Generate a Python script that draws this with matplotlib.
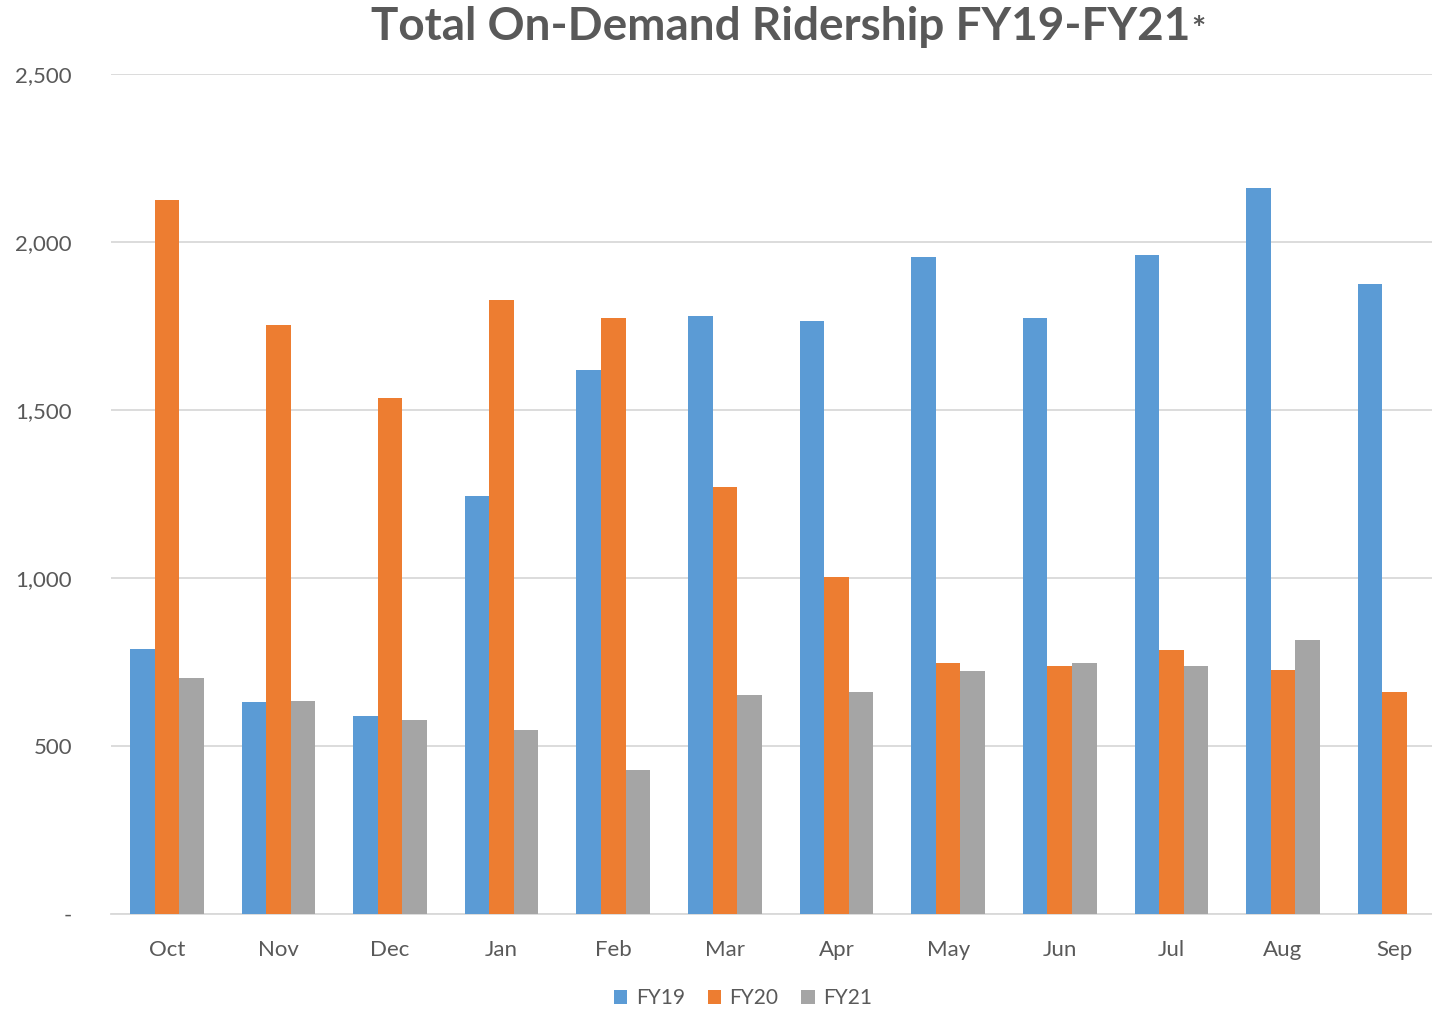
import matplotlib
matplotlib.use("Agg")
import matplotlib.pyplot as plt
import numpy as np
from matplotlib.ticker import FuncFormatter

months = ["Oct", "Nov", "Dec", "Jan", "Feb", "Mar", "Apr", "May", "Jun", "Jul", "Aug", "Sep"]
fy19 = [790, 631, 589, 1244, 1619, 1780, 1765, 1955, 1774, 1961, 2161, 1875]
fy20 = [2125, 1753, 1536, 1827, 1774, 1271, 1003, 747, 738, 786, 726, 661]
fy21 = [702, 634, 577, 548, 429, 652, 661, 723, 747, 738, 815, 0]
series_names = ["FY19", "FY20", "FY21"]
colors = ["#5B9BD5", "#ED7D31", "#A5A5A5"]
yticks = [0, 500, 1000, 1500, 2000, 2500]

plt.rcParams['font.family'] = ['Lato', 'DejaVu Sans']

fig = plt.figure(figsize=(14.32, 10.10), dpi=100)
W, H = 1432, 1010
ax = fig.add_axes([111 / W, 1 - 914 / H, (1432 - 111) / W, (914 - 74) / H])

x = np.arange(len(months))
bw = 0.22
for i, (vals, name, c) in enumerate(zip([fy19, fy20, fy21], series_names, colors)):
    ax.bar(x + (i - 1) * bw, vals, width=bw, color=c, label=name, zorder=3)

ax.set_xlim(-0.5, (1432 - 167) / 111.6)
ax.set_ylim(0, 2500)
ax.set_yticks(yticks)
ax.yaxis.set_major_formatter(FuncFormatter(lambda v, p: "-" if v == 0 else f"{int(v):,}"))
ax.set_xticks(x)
ax.set_xticklabels(months)
ax.grid(axis='y', color='#D9D9D9', linewidth=1.3, zorder=0)
for s in ['top', 'right', 'left']:
    ax.spines[s].set_visible(False)
ax.spines['bottom'].set_color('#D9D9D9')
ax.spines['bottom'].set_linewidth(1.3)
ax.tick_params(axis='both', length=0, labelsize=16, colors='#595959')
ax.tick_params(axis='x', pad=19)
ax.tick_params(axis='y', pad=28)

fig.text(781 / W, 1 - 27 / H, "Total On-Demand Ridership FY19-FY21", ha='center', va='center',
         fontsize=33, fontweight='bold', color='#595959')
fig.text(1191 / W, 1 - 30 / H, "*", ha='left', va='center',
         fontsize=24, fontweight='bold', color='#595959')

ax.legend(loc='center', bbox_to_anchor=(743 / W, 1 - 998 / H), bbox_transform=fig.transFigure,
          ncol=3, frameon=False, fontsize=15, labelcolor='#595959', handlelength=0.65,
          handleheight=0.65, handletextpad=0.4, columnspacing=1.1)

fig.savefig("out.png", dpi=100)
